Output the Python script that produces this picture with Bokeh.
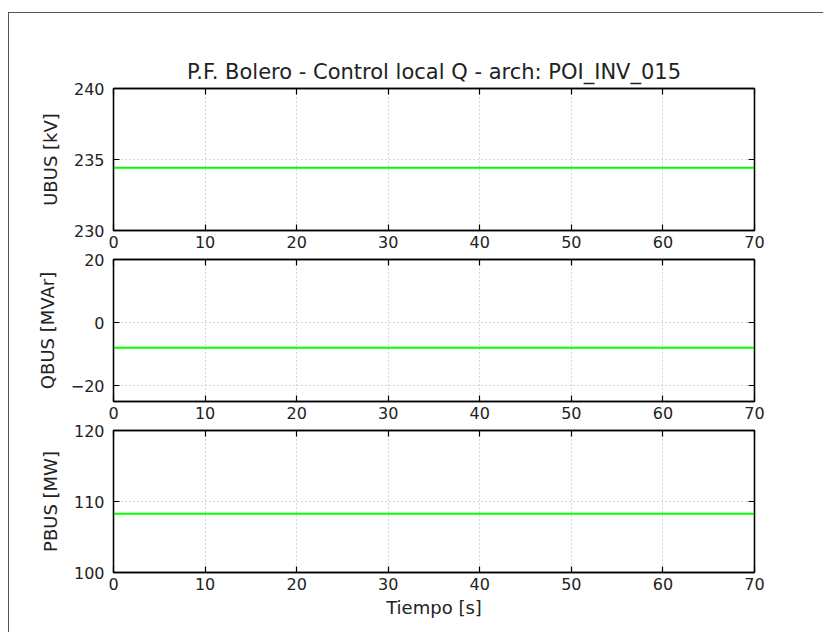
from bokeh.plotting import figure
from bokeh.layouts import column
from bokeh.models import LinearAxis, FixedTicker, CustomJSTickFormatter, Range1d
from bokeh.embed import file_html
from bokeh.resources import INLINE

# data
tiempo = [0, 10, 20, 30, 40, 50, 60, 70]
ubus = [234.42, 234.42, 234.42, 234.42, 234.42, 234.42, 234.42, 234.42]
qbus = [-8.0, -8.0, -8.0, -8.0, -8.0, -8.0, -8.0, -8.0]
pbus = [108.28, 108.28, 108.28, 108.28, 108.28, 108.28, 108.28, 108.28]

x_ticks = [0, 10, 20, 30, 40, 50, 60, 70]
u_ticks = [230, 235, 240]
q_ticks = [-20, 0, 20]
p_ticks = [100, 110, 120]

title_text = "P.F. Bolero - Control local Q - arch: POI_INV_015"
FONT = "DejaVu Sans"


def style_axis(ax, ticks, show_labels=True):
    ax.ticker = FixedTicker(ticks=ticks)
    ax.major_tick_in = 6
    ax.major_tick_out = 0
    ax.minor_tick_in = 0
    ax.minor_tick_out = 0
    ax.major_tick_line_color = "black"
    ax.major_tick_line_width = 1.2
    ax.axis_line_color = "black"
    ax.axis_line_width = 1.3
    ax.major_label_text_font = FONT
    ax.major_label_text_font_size = "16px"
    ax.major_label_text_color = "#222222"
    ax.axis_label_text_font = FONT
    ax.axis_label_text_font_size = "18px"
    ax.axis_label_text_font_style = "normal"
    ax.axis_label_text_color = "#222222"
    if not show_labels:
        ax.formatter = CustomJSTickFormatter(code="return ''")
        ax.major_label_standoff = 0
        ax.major_label_text_font_size = "1px"


def make_panel(y, yr, yticks, ylabel, btop, bbottom, title=None, xlabel=None, overlap=0):
    h = btop + 142 + bbottom
    p = figure(width=814, height=h, output_backend="svg", toolbar_location=None,
               x_range=Range1d(0, 70), y_range=Range1d(*yr),
               min_border_left=104, min_border_right=69,
               min_border_top=btop, min_border_bottom=bbottom,
               title=title)
    p.line(tiempo, y, line_color="#00ff00", line_width=2)
    style_axis(p.xaxis[0], x_ticks)
    style_axis(p.yaxis[0], yticks)
    p.xaxis[0].major_label_standoff = 5
    p.yaxis[0].major_label_standoff = 9
    p.yaxis[0].axis_label = ylabel
    p.yaxis[0].axis_label_standoff = 10
    if xlabel:
        p.xaxis[0].axis_label = xlabel
        p.xaxis[0].axis_label_standoff = 4
    top = LinearAxis()
    style_axis(top, x_ticks, show_labels=False)
    p.add_layout(top, "above")
    right = LinearAxis()
    style_axis(right, yticks, show_labels=False)
    p.add_layout(right, "right")
    for g in (p.xgrid[0], p.ygrid[0]):
        g.grid_line_color = "#b0b0b0"
        g.grid_line_dash = "1 3"
        g.grid_line_width = 1
    p.xgrid[0].ticker = FixedTicker(ticks=x_ticks)
    p.ygrid[0].ticker = FixedTicker(ticks=yticks)
    p.outline_line_color = "black"
    p.outline_line_width = 1.3
    p.background_fill_color = "white"
    p.border_fill_color = "white"
    if overlap:
        p.border_fill_alpha = 0
        p.styles = {"margin-top": f"-{overlap}px"}
    if title:
        p.title.align = "center"
        p.title.text_font = FONT
        p.title.text_font_size = "21px"
        p.title.text_font_style = "normal"
        p.title.text_color = "#222222"
        p.title.standoff = 9
    return p


p1 = make_panel(ubus, (230, 240), u_ticks, "UBUS [kV]", 75, 25, title=title_text)
p2 = make_panel(qbus, (-25, 20), q_ticks, "QBUS [MVAr]", 12, 25, overlap=8)
p3 = make_panel(pbus, (100, 120), p_ticks, "PBUS [MW]", 12, 60, xlabel="Tiempo [s]", overlap=8)

layout = column(p1, p2, p3, spacing=0,
                styles={"margin": "12px 0px 0px 8px", "border-top": "1px solid #555555",
                        "border-left": "1px solid #555555"})

open("out.html", "w").write(file_html(layout, INLINE))
